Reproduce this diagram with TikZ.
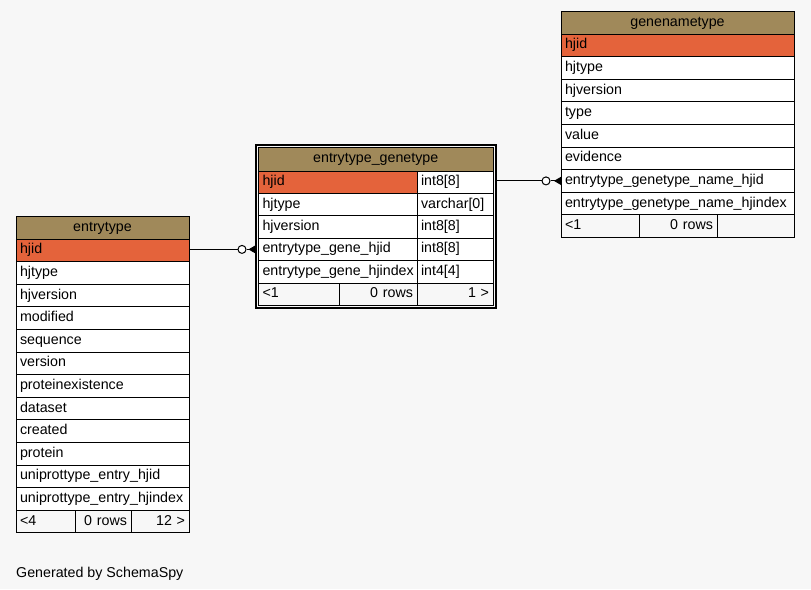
\documentclass[tikz,border=0pt]{standalone}
\usepackage{fontspec}
\setmainfont{Liberation Sans}
\usepackage{xcolor}
\usetikzlibrary{positioning,arrows.meta,calc}
\definecolor{headcol}{RGB}{160,137,90}
\definecolor{keycol}{RGB}{228,99,59}
\definecolor{bgcol}{RGB}{247,247,247}

\begin{document}
\begin{tikzpicture}
	[x=1pt,y=-1pt,font=\fontsize{14.25}{16}\selectfont,
	cell/.style={draw=black,line width=1pt,fill=white,anchor=north west,outer sep=0pt,
		inner xsep=4pt,inner ysep=0pt,text width=#1,minimum height=22.6pt,
		text height=10pt,text depth=3pt,align=left},
	head/.style={cell=#1,fill=headcol,minimum height=23pt,align=center},
	foot/.style={cell=#1,fill=bgcol},
	optc/.style={circle,draw=black,fill=white,line width=1pt,minimum size=8pt,inner sep=0pt},
	link/.style={draw=black,line width=1pt}]
	\useasboundingbox[fill=bgcol] (0,0) rectangle (811,589);
	%%%%% ENTRYTYPE
	\node[head=165pt] (ent0) at (16,216) {entrytype};
	\node[cell=165pt,fill=keycol] (ent1) at (ent0.south west) {hjid};
	\foreach \f [count=\i from 2,remember=\i as \lasti (initially 1)] in {hjtype,hjversion,modified,sequence,version,proteinexistence,dataset,created,protein,uniprottype\_entry\_hjid,uniprottype\_entry\_hjindex}
	{
	\node[cell=165pt] (ent\i) at (ent\lasti.south west) {\f};
	};
	\node[foot=51pt] (entf1) at (ent12.south west) {<4};
	\node[foot=48pt,align=right] (entf2) at (entf1.north east) {0 rows};
	\node[foot=50pt,align=right] (entf3) at (entf2.north east) {12 >};
	%%%%% ENTRYTYPE_GENETYPE
	\node[head=226.5pt,minimum height=24pt] (eg0) at (258.5,147) {entrytype\_genetype};
	\node[cell=150.5pt,fill=keycol,minimum height=22.4pt] (egn1) at (eg0.south west) {hjid};
	\node[cell=68pt,minimum height=22.4pt] (egt1) at (egn1.north east) {int8[8]};
	\foreach \f/\t [count=\i from 2,remember=\i as \lasti (initially 1)] in {hjtype/varchar[0],hjversion/int8[8],entrytype\_gene\_hjid/int8[8],entrytype\_gene\_hjindex/int4[4]}
	{
	\node[cell=150.5pt,minimum height=22.4pt] (egn\i) at (egn\lasti.south west) {\f};
	\node[cell=68pt,minimum height=22.4pt] (egt\i) at (egn\i.north east) {\t};
	};
	\node[foot=73pt,minimum height=22.4pt] (egf1) at (egn5.south west) {<1};
	\node[foot=69.5pt,minimum height=22.4pt,align=right] (egf2) at (egf1.north east) {0 rows};
	\node[foot=68pt,minimum height=22.4pt,align=right] (egf3) at (egf2.north east) {1 >};
	\draw[line width=2pt] ([shift={(-2.5pt,2pt)}]eg0.north west) rectangle ([shift={(3pt,-2.5pt)}]egf3.south east);
	%%%%% GENENAMETYPE
	\node[head=225pt] (gn0) at (561,11) {genenametype};
	\node[cell=225pt,fill=keycol] (gn1) at (gn0.south west) {hjid};
	\foreach \f [count=\i from 2,remember=\i as \lasti (initially 1)] in {hjtype,hjversion,type,value,evidence,entrytype\_genetype\_name\_hjid,entrytype\_genetype\_name\_hjindex}
	{
	\node[cell=225pt] (gn\i) at (gn\lasti.south west) {\f};
	};
	\node[foot=70pt] (gnf1) at (gn8.south west) {<1};
	\node[foot=70pt,align=right] (gnf2) at (gnf1.north east) {0 rows};
	\node[foot=69pt] (gnf3) at (gnf2.north east) {};
	%%%%% LINKS
	\node[optc] (o1) at ([xshift=-16.5pt]egn4.west) {};
	\path[link] (ent1.east |- o1) -- (o1.west);
	\path[link,-{Triangle[reversed,length=7pt,width=8pt]}] (o1.east) -- ([xshift=-3pt]egn4.west);
	\node[optc] (o2) at ([xshift=-15pt]gn7.west) {};
	\path[link] ([xshift=4pt]egt1.east |- o2) -- (o2.west);
	\path[link,-{Triangle[reversed,length=7pt,width=8pt]}] (o2.east) -- (gn7.west);
	%%%%% CAPTION
	\node[anchor=base west,inner sep=0pt] (gen) at (16,577) {Generated by SchemaSpy};
\end{tikzpicture}
\end{document}
